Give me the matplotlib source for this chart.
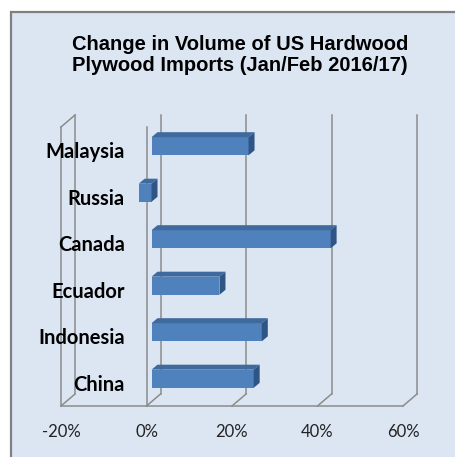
import matplotlib
matplotlib.use("Agg")
import matplotlib.pyplot as plt
from matplotlib.patches import Rectangle, Polygon
from matplotlib.transforms import offset_copy

# data (bottom to top)
countries = ['China', 'Indonesia', 'Ecuador', 'Canada', 'Russia', 'Malaysia']
changes = [23.9, 25.8, 15.9, 41.9, -3.0, 22.7]
xticks = [-20, 0, 20, 40, 60]
xlabels = ['-20%', '0%', '20%', '40%', '60%']
title = 'Change in Volume of US Hardwood\nPlywood Imports (Jan/Feb 2016/17)'

W, H = 455, 457
bg = '#dce6f2'
grid = '#8c8c8c'
face_c = '#4f81bd'
top_c = '#3f6a9e'
side_c = '#2e5585'

fig = plt.figure(figsize=(W / 100, H / 100), dpi=100)
fig.patch.set_facecolor('white')

# chart area box
fig.patches.append(Rectangle((11 / W, -0.05), 1.2, (H - 12) / H + 0.05,
                             transform=fig.transFigure, facecolor=bg,
                             edgecolor='#808080', linewidth=1.6, zorder=-5))

fig.text(240 / W, 1 - 55 / H, title, ha='center', va='center',
         fontsize=14.5, fontweight='bold', family='Liberation Sans',
         linespacing=1.12)

# front plane of the 3d box
x0, x1 = 61, 403
yt, yb = 127, 406
ax = fig.add_axes([x0 / W, 1 - yb / H, (x1 - x0) / W, (yb - yt) / H])
ax.set_zorder(2)
ax.set_facecolor('none')
ax.set_xlim(-20, 60)
ax.set_ylim(-0.5, 5.5)
for s in ax.spines.values():
    s.set_visible(False)

depth_x, depth_y = 14, 12
back = offset_copy(ax.transData, fig=fig, x=depth_x, y=depth_y, units='dots')
lw = 1.1
gkw = dict(color=grid, lw=lw, zorder=1, clip_on=False)

# back wall gridlines
for t in xticks:
    ax.plot([t, t], [-0.5, 5.5], transform=back, **gkw)
# floor diagonals and front line
pxu = (x1 - x0) / 80.0
pyu = (yb - yt) / 6.0
for t in xticks:
    ax.plot([t, t + depth_x / pxu], [-0.5, -0.5 + depth_y / pyu], **gkw)
ax.plot([-20, 60], [-0.5, -0.5], **gkw)
# left wall front edge and its top
ax.plot([-20, -20], [-0.5, 5.5], **gkw)
ax.plot([-20, -20 + depth_x / pxu], [5.5, 5.5 + depth_y / pyu], **gkw)
# zero axis line
ax.plot([0, 0], [-0.5, 5.5], **gkw)

# bars
face = offset_copy(ax.transData, fig=fig, x=5, y=4, units='dots')
h = 0.39
ddx, ddy = 6 / pxu, 5 / pyu
ypos = list(range(len(countries)))
bars = ax.barh(ypos, changes, height=h, color=face_c, zorder=3)
for b in bars:
    b.set_transform(face)
for y, v in zip(ypos, changes):
    lo, hi = min(0, v), max(0, v)
    top = Polygon([(lo, y + h / 2), (hi, y + h / 2),
                   (hi + ddx, y + h / 2 + ddy), (lo + ddx, y + h / 2 + ddy)],
                  closed=True, facecolor=top_c, edgecolor='none',
                  transform=face, zorder=3)
    side = Polygon([(hi, y - h / 2), (hi, y + h / 2),
                    (hi + ddx, y + h / 2 + ddy), (hi + ddx, y - h / 2 + ddy)],
                   closed=True, facecolor=side_c, edgecolor='none',
                   transform=face, zorder=3)
    ax.add_patch(top)
    ax.add_patch(side)

ax.set_yticks(ypos, countries)
ax.set_xticks(xticks, xlabels)
ax.tick_params(axis='y', length=0, pad=-46, labelsize=14.5)
ax.tick_params(axis='x', length=0, pad=13, labelsize=12)
for lab in ax.get_yticklabels():
    lab.set_family('Lato')
    lab.set_fontweight('bold')
    lab.set_va('center_baseline')
for lab in ax.get_xticklabels():
    lab.set_family('Lato')
    lab.set_color('#222222')

fig.savefig('out.png', dpi=100, facecolor=fig.get_facecolor())
